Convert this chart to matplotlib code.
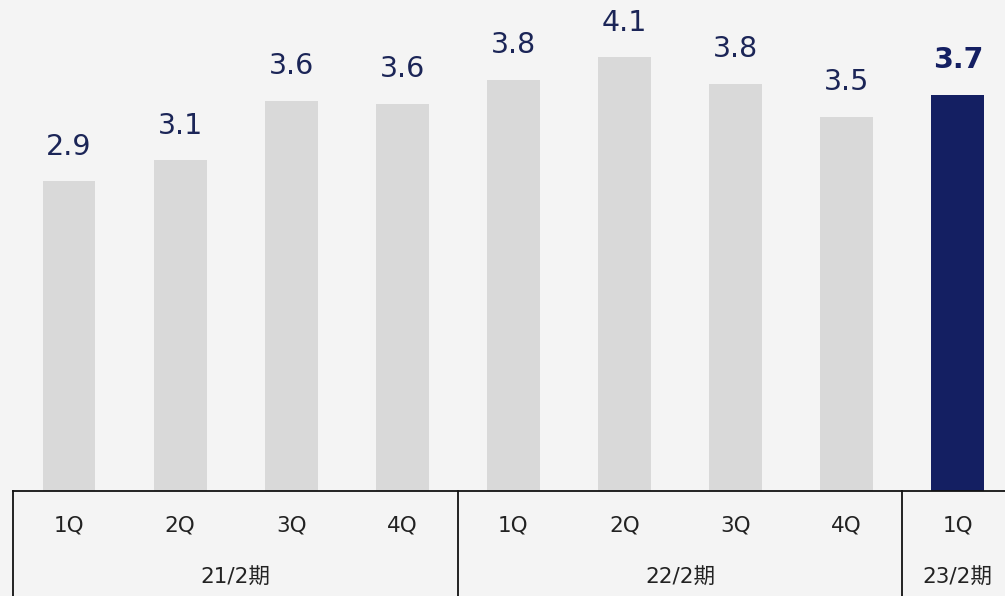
import matplotlib
matplotlib.use("Agg")
import matplotlib.pyplot as plt
import matplotlib.transforms as mtransforms

# data
quarters = ["1Q", "2Q", "3Q", "4Q", "1Q", "2Q", "3Q", "4Q", "1Q"]
values = [2.92, 3.12, 3.68, 3.65, 3.88, 4.09, 3.84, 3.53, 3.74]   # bar heights
value_labels = ["2.9", "3.1", "3.6", "3.6", "3.8", "4.1", "3.8", "3.5", "3.7"]
periods = ["21/2期", "22/2期", "23/2期"]
period_sizes = [4, 4, 1]

bg = "#f4f4f4"
gray = "#d9d9d9"
navy = "#141f62"
label_col = "#1b2557"
fonts = ["DejaVu Sans", "Noto Sans CJK JP"]
plt.rcParams["font.family"] = fonts

W, H = 1005, 596
base_px = 491
fig = plt.figure(figsize=(W / 100, H / 100), dpi=100, facecolor=bg)
ax = fig.add_axes([0, (H - base_px) / H, 1, base_px / H])
ax.set_facecolor(bg)

step = 111.1
x0 = 69
ax.set_xlim(-x0 / step, (W - x0) / step)
ax.set_ylim(0, base_px / 106.0)

x = list(range(len(values)))
colors = [gray] * (len(values) - 1) + [navy]
ax.bar(x, values, width=0.477, color=colors, zorder=2)

for i, (v, lab) in enumerate(zip(values, value_labels)):
    last = i == len(values) - 1
    ax.annotate(lab, (i, v), xytext=(0, 25), textcoords="offset points",
                ha="center", va="center", fontsize=20.5,
                color=navy if last else label_col,
                fontweight="bold" if last else "normal")

for s in ax.spines.values():
    s.set_visible(False)
ax.set_xticks([])
ax.set_yticks([])

# bottom table
trans = mtransforms.blended_transform_factory(ax.transData, ax.transAxes)
bottom = -(H - base_px) / base_px - 0.01
line_kw = dict(color="#111111", lw=1.3, transform=trans, clip_on=False, zorder=3)
ax.plot([-0.5, (W - x0) / step], [0, 0], **line_kw)

start = 0
for p, n in zip(periods, period_sizes):
    left = start - 0.5
    ax.plot([left, left], [0, bottom], **line_kw)
    ax.text(start + (n - 1) / 2, -(578 - base_px) / base_px, p, transform=trans,
            ha="center", va="center", fontsize=15.5, color="#222222", family=fonts)
    start += n

for i, q in enumerate(quarters):
    ax.text(i, -(526 - base_px) / base_px, q, transform=trans,
            ha="center", va="center", fontsize=15.5, color="#222222")

fig.savefig("out.png", dpi=100, facecolor=bg)
